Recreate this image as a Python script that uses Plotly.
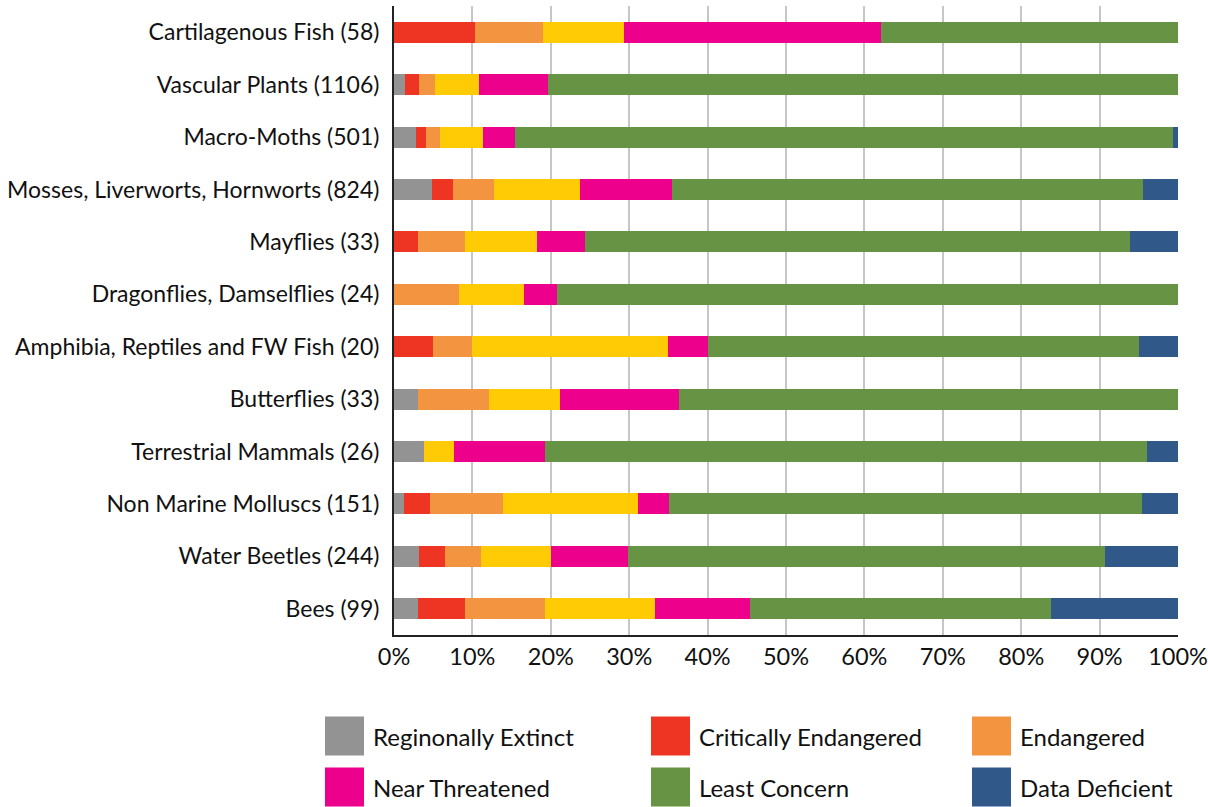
import plotly.graph_objects as go

categories = [
    "Cartilagenous Fish (58)",
    "Vascular Plants (1106)",
    "Macro-Moths (501)",
    "Mosses, Liverworts, Hornworts (824)",
    "Mayflies (33)",
    "Dragonflies, Damselflies (24)",
    "Amphibia, Reptiles and FW Fish (20)",
    "Butterflies (33)",
    "Terrestrial Mammals (26)",
    "Non Marine Molluscs (151)",
    "Water Beetles (244)",
    "Bees (99)",
]

regionally_extinct = [0, 1.4, 2.8, 4.9, 0, 0, 0, 3.0, 3.85, 1.3, 3.2, 3.0]
critically_endangered = [10.3, 1.8, 1.3, 2.6, 3.0, 0, 5.0, 0, 0, 3.3, 3.3, 6.1]
endangered = [8.7, 2.0, 1.8, 5.3, 6.1, 8.3, 5.0, 9.1, 0, 9.3, 4.6, 10.1]
vulnerable = [10.3, 5.7, 5.5, 10.9, 9.1, 8.3, 25.0, 9.1, 3.85, 17.2, 8.9, 14.1]
near_threatened = [32.8, 8.8, 4.0, 11.7, 6.1, 4.2, 5.0, 15.2, 11.5, 4.0, 9.9, 12.1]
least_concern = [37.9, 80.3, 83.9, 60.1, 69.6, 79.2, 55.0, 63.6, 76.9, 60.3, 60.8, 38.4]
data_deficient = [0, 0, 0.7, 4.5, 6.1, 0, 5.0, 0, 3.9, 4.6, 9.3, 16.2]

series = [
    ("Reginonally Extinct", regionally_extinct, "#939393", True),
    ("Critically Endangered", critically_endangered, "#EE3524", True),
    ("Endangered", endangered, "#F29440", True),
    ("Vulnerable", vulnerable, "#FFCB05", False),
    ("Near Threatened", near_threatened, "#EC008C", True),
    ("Least Concern", least_concern, "#679345", True),
    ("Data Deficient", data_deficient, "#30598A", True),
]

x_ticks = [0, 10, 20, 30, 40, 50, 60, 70, 80, 90, 100]
x_tick_labels = ["0%", "10%", "20%", "30%", "40%", "50%", "60%", "70%", "80%", "90%", "100%"]

FONT = "Lato, 'Open Sans', sans-serif"

fig = go.Figure()
for name, vals, color, _ in series:
    fig.add_trace(go.Bar(
        y=categories, x=vals, name=name, orientation="h",
        marker=dict(color=color, line=dict(width=0)),
        showlegend=False,
    ))

fig.update_layout(
    barmode="stack",
    bargap=0.6,
    width=1208, height=807,
    margin=dict(l=394, r=30, t=6, b=172),
    plot_bgcolor="white", paper_bgcolor="white",
    font=dict(family=FONT, size=23, color="#111111"),
    xaxis=dict(
        range=[0, 100], tickvals=x_ticks, ticktext=x_tick_labels,
        showgrid=True, gridcolor="#c6c6c6", gridwidth=2,
        showline=True, linecolor="#222222", linewidth=2,
        ticks="", zeroline=False, fixedrange=True, automargin=False,
        tickfont=dict(size=23.5, family=FONT),
    ),
    yaxis=dict(
        autorange="reversed", showline=True, linecolor="#222222", linewidth=2,
        ticks="", ticklabelstandoff=8, tickfont=dict(size=23, family=FONT),
        fixedrange=True, automargin=False,
    ),
)

# Legend built from the series definitions (Vulnerable omitted as in the original)
legend_items = [(n, c) for n, _, c, show in series if show]
col_x = [325, 651, 972]
row_y = [736, 787]
for i, (name, color) in enumerate(legend_items):
    cx = col_x[i % 3]
    cy = row_y[i // 3]
    fig.add_shape(type="rect", xref="paper", yref="paper",
                  x0=(cx - 394) / 784, x1=(cx + 39 - 394) / 784,
                  y0=(635 - (cy + 19.5)) / 629, y1=(635 - (cy - 19.5)) / 629,
                  fillcolor=color, line=dict(width=0))
    fig.add_annotation(xref="paper", yref="paper",
                       x=(cx + 46 - 394) / 784, y=(635 - cy) / 629,
                       text=name, showarrow=False, xanchor="left", yanchor="middle",
                       font=dict(size=24, family=FONT, color="#111111"))

fig.write_html("out.html", config={"displayModeBar": False},
               post_script="document.body.style.margin='0';document.body.style.overflow='hidden';")
